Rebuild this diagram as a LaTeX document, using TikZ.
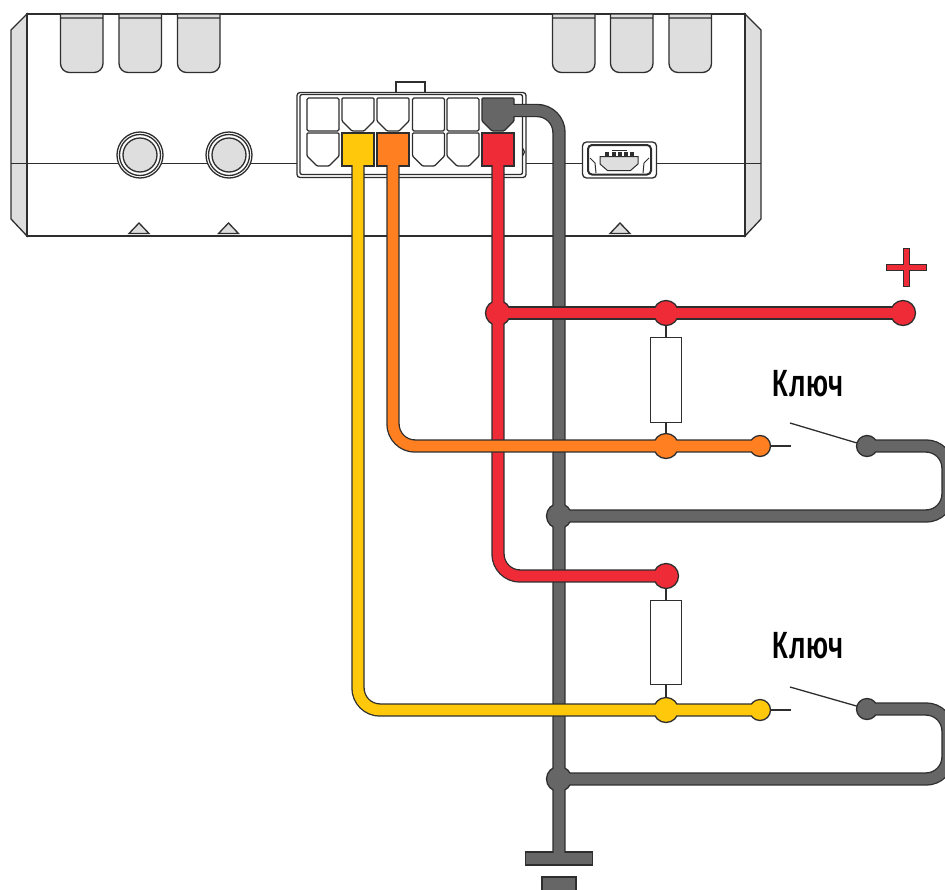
\documentclass[tikz,border=0pt]{standalone}
\usepackage{fontspec}
\newfontfamily\keyfont[LetterSpace=4]{Liberation Sans}
\definecolor{linecol}{HTML}{2E2E2E}
\definecolor{panelgray}{HTML}{DEDEDE}
\definecolor{wiregray}{HTML}{666666}
\definecolor{wirered}{HTML}{EE2B37}
\definecolor{wireorange}{HTML}{FF7F21}
\definecolor{wireyellow}{HTML}{FFC80A}

\begin{document}
\begin{tikzpicture}[x=1pt,y=-1pt,line width=1.3pt,
        panel/.style={draw=linecol,fill=panelgray},
        ring/.style={circle,draw=linecol,fill=white,inner sep=0pt},
        wire/.style={draw=linecol,line width=13.4pt,rounded corners=22pt},
        core/.style={draw=#1,line width=10.8pt,rounded corners=22pt},
        spot/.style={circle,inner sep=0pt,outer sep=0pt,minimum size=0pt},
        dot/.style={circle,draw=linecol,fill=#1,inner sep=0pt,minimum size=25pt},
        enddot/.style={circle,draw=linecol,fill=#1,inner sep=0pt,minimum size=21pt},
        cell/.style={rectangle,draw=linecol,fill=white,inner sep=0pt,minimum width=32pt,minimum height=33pt,rounded corners=1.5pt},
        chcell/.style={draw=linecol,fill=#1,rounded corners=1pt},
        res/.style={rectangle,draw=linecol,fill=white,inner sep=0pt,minimum width=30.5pt,minimum height=84.5pt},
        bar/.style={rectangle,draw=linecol,fill=wiregray,inner sep=0pt},
        key/.style={font=\keyfont\bfseries\fontsize{38}{38}\selectfont,inner sep=0pt}]

        \useasboundingbox (0,0) rectangle (945,889);

        \draw[panel] (27,14) -- (11,30) -- (11,219) -- (27,236) -- cycle;
        \draw[panel] (745,14) -- (761,30) -- (761,219) -- (745,236) -- cycle;
        \draw[draw=linecol,fill=white] (27,14) rectangle (745,236);
        \draw[draw=linecol,line width=1.5pt] (11,163.5) -- (761,163.5);

        \draw[panel] (60.5,14) [rounded corners=9pt] -- ++(0,58.5) -- ++(42.5,0) [sharp corners] -- ++(0,-58.5) -- cycle (60.5,18) -- ++(42.5,0);
        \draw[panel] (119,14) [rounded corners=9pt] -- ++(0,58.5) -- ++(42.5,0) [sharp corners] -- ++(0,-58.5) -- cycle (119,18) -- ++(42.5,0);
        \draw[panel] (177.5,14) [rounded corners=9pt] -- ++(0,58.5) -- ++(42.5,0) [sharp corners] -- ++(0,-58.5) -- cycle (177.5,18) -- ++(42.5,0);
        \draw[panel] (552.5,14) [rounded corners=9pt] -- ++(0,58.5) -- ++(42.5,0) [sharp corners] -- ++(0,-58.5) -- cycle (552.5,18) -- ++(42.5,0);
        \draw[panel] (610.5,14) [rounded corners=9pt] -- ++(0,58.5) -- ++(42.5,0) [sharp corners] -- ++(0,-58.5) -- cycle (610.5,18) -- ++(42.5,0);
        \draw[panel] (669,14) [rounded corners=9pt] -- ++(0,58.5) -- ++(42.5,0) [sharp corners] -- ++(0,-58.5) -- cycle (669,18) -- ++(42.5,0);

        \node[ring,minimum size=46pt] (s1) at (140,155) {};
        \node[ring,minimum size=41pt] (s1b) at (s1) {};
        \node[ring,minimum size=34pt,fill=panelgray] (s1c) at (s1) {};
        \node[ring,minimum size=46pt] (s2) at (229,155) {};
        \node[ring,minimum size=41pt] (s2b) at (s2) {};
        \node[ring,minimum size=34pt,fill=panelgray] (s2c) at (s2) {};

        \draw[panel] (129,233.5) -- (139,223) -- (149,233.5) -- cycle;
        \draw[panel] (218.5,233.5) -- (228.5,223) -- (238.5,233.5) -- cycle;
        \draw[panel] (610,233.5) -- (620,223) -- (630,233.5) -- cycle;

        \draw[draw=linecol,fill=white] (396,93) -- (396,82) -- (425,82) -- (425,93);
        \draw[draw=linecol,fill=white,rounded corners=3pt] (297,92.5) rectangle (526,177.5);
        \draw[draw=linecol,rounded corners=2pt] (300,94.5) rectangle (522.5,174.5);
        \draw[draw=linecol] (522.5,148) -- (524.5,152) -- (522.5,156);

        \node[cell] (c1) at (323,114.5) {};
        \draw[chcell=white] (342,98) -- ++(32,0) -- ++(0,23) -- ++(-10,10) -- ++(-12,0) -- ++(-10,-10) -- cycle;
        \draw[chcell=white] (377,98) -- ++(32,0) -- ++(0,23) -- ++(-10,10) -- ++(-12,0) -- ++(-10,-10) -- cycle;
        \node[cell] (c4) at (428.5,114.5) {};
        \node[cell] (c5) at (463,114.5) {};
        \draw[chcell=white] (307,133) -- ++(32,0) -- ++(0,23) -- ++(-10,10) -- ++(-12,0) -- ++(-10,-10) -- cycle;
        \draw[chcell=white] (412.5,133) -- ++(32,0) -- ++(0,23) -- ++(-10,10) -- ++(-12,0) -- ++(-10,-10) -- cycle;
        \draw[chcell=white] (447,133) -- ++(32,0) -- ++(0,23) -- ++(-10,10) -- ++(-12,0) -- ++(-10,-10) -- cycle;
        \draw[chcell=wiregray] (482,98) -- ++(32,0) -- ++(0,23) -- ++(-10,10) -- ++(-12,0) -- ++(-10,-10) -- cycle;
        \node[spot] (c6) at (514,110.5) {};
        \node[cell,fill=wireyellow,rounded corners=0pt] (c8) at (358,149.5) {};
        \node[cell,fill=wireorange,rounded corners=0pt] (c9) at (393,149.5) {};
        \node[cell,fill=wirered,rounded corners=0pt] (c12) at (498,149.5) {};

        \draw[draw=linecol,fill=white,rounded corners=4pt] (582.5,142) rectangle (656.5,178);
        \draw[draw=linecol,fill=white,line width=2pt,rounded corners=4pt] (588,145) rectangle (651,174.5);
        \draw[draw=linecol,line width=1pt] (590,158) -- (595,163) -- (596,173);
        \draw[draw=linecol,line width=1pt] (649,158) -- (644,163) -- (643,173);
        \draw[draw=linecol,line width=1pt] (612,150) -- (627,150);
        \draw[draw=linecol,fill=linecol,line width=.5pt] (605,152.5) rectangle (608,156) (612,152.5) rectangle (615,156) (618,152.5) rectangle (621,156) (624,152.5) rectangle (627,156) (630,152.5) rectangle (633,156);
        \draw[panel,line width=1pt] (600,156.5) -- (638,156.5) -- (638,164) -- (630.5,170.5) -- (607.5,170.5) -- (600,164) -- cycle;

        \node[res] (r1) at (666,380) {};
        \node[res] (r2) at (666,642.5) {};
        \node[key] (k1) at (808,384) {\scalebox{0.68}[1]{Ключ}};
        \node[key] (k2) at (808,646) {\scalebox{0.68}[1]{Ключ}};
        \draw[draw=linecol,fill=wirered,line width=1pt] (903,248) -- (909,248) -- (909,264) -- (926,264) -- (926,270) -- (909,270) -- (909,286) -- (903,286) -- (903,270) -- (886,270) -- (886,264) -- (903,264) -- cycle;

        \node[spot] (j1) at (498,313) {};
        \node[spot] (j2) at (666,313) {};
        \node[spot] (j3) at (903,313) {};
        \node[spot] (j4) at (666,576) {};
        \node[spot] (o1) at (666,446) {};
        \node[spot] (o2) at (760,446) {};
        \node[spot] (y1) at (666,710) {};
        \node[spot] (y2) at (760,710) {};
        \node[spot] (g1) at (559,516) {};
        \node[spot] (g2) at (559,779) {};
        \node[spot] (t1) at (867,446) {};
        \node[spot] (t2) at (867,709) {};
        \node[spot] (a1) at (948,481) {};
        \node[spot] (a2) at (948,744) {};
        \node[spot] (b1) at (791,446) {};
        \node[spot] (b2) at (791,710) {};
        \node[spot] (d1) at (790,423) {};
        \node[spot] (d2) at (790,687) {};

        \node[bar,minimum width=67pt,minimum height=13pt] (gnd1) at (559,858.5) {};
        \node[bar,minimum width=34pt,minimum height=20pt] (gnd2) at (559,887) {};

        \draw[draw=linecol] (j2) -- (r1) -- (o1);
        \draw[draw=linecol] (j4) -- (r2) -- (y1);
        \draw[draw=linecol] (o2) -- (b1);
        \draw[draw=linecol] (y2) -- (b2);
        \draw[draw=linecol] (d1) -- (t1);
        \draw[draw=linecol] (d2) -- (t2);

        \draw[wire] (c6) -| (gnd1.north);
        \draw[wire] (t1) -| (a1) |- (g1);
        \draw[wire] (t2) -| (a2) |- (g2);
        \node[dot=wiregray] (g1d) at (g1) {};
        \node[dot=wiregray] (g2d) at (g2) {};
        \node[enddot=wiregray] (t1d) at (t1) {};
        \node[enddot=wiregray] (t2d) at (t2) {};
        \draw[core=wiregray] ([xshift=-3pt]c6.center) -| (gnd1.center);
        \draw[core=wiregray] (t1) -| (a1) |- (g1);
        \draw[core=wiregray] (t2) -| (a2) |- (g2);

        \draw[wire] (c12.south) |- (j4);
        \draw[wire] (j1) -- (j3);
        \node[dot=wirered] (j1d) at (j1) {};
        \node[dot=wirered] (j2d) at (j2) {};
        \node[dot=wirered] (j3d) at (j3) {};
        \node[dot=wirered] (j4d) at (j4) {};
        \draw[core=wirered] (c12.center) |- (j4);
        \draw[core=wirered] (j1) -- (j3);

        \draw[wire] (c9.south) |- (o2);
        \node[dot=wireorange] (o1d) at (o1) {};
        \node[enddot=wireorange] (o2d) at (o2) {};
        \draw[core=wireorange] (c9.center) |- (o2);

        \draw[wire] (c8.south) |- (y2);
        \node[dot=wireyellow] (y1d) at (y1) {};
        \node[enddot=wireyellow] (y2d) at (y2) {};
        \draw[core=wireyellow] (c8.center) |- (y2);
\end{tikzpicture}
\end{document}
